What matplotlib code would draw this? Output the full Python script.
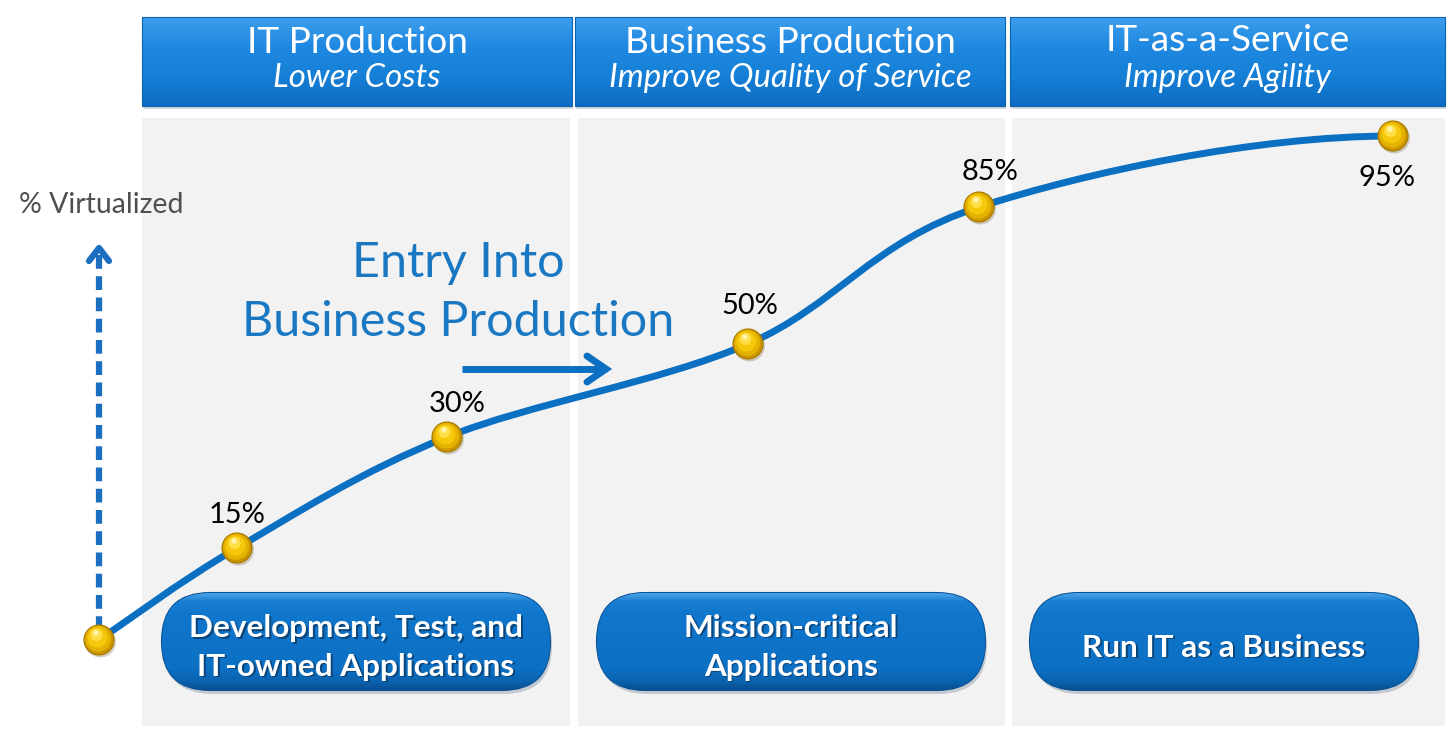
import numpy as np
import matplotlib
matplotlib.use("Agg")
import matplotlib.pyplot as plt
from matplotlib.patches import Rectangle, FancyBboxPatch, Circle, PathPatch
from matplotlib.path import Path
from matplotlib.colors import LinearSegmentedColormap

# ---------------- data ----------------
stage_titles = ["IT Production", "Business Production", "IT-as-a-Service"]
stage_subtitles = ["Lower Costs", "Improve Quality of Service", "Improve Agility"]
app_labels = ["Development, Test, and\nIT-owned Applications",
              "Mission-critical\nApplications",
              "Run IT as a Business"]
point_x = [99, 237, 447, 748, 979, 1393]
point_y = [640, 548, 437, 344, 207, 136]
pct_labels = ["", "15%", "30%", "50%", "85%", "95%"]
axis_label = "% Virtualized"
callout_lines = ["Entry Into", "Business Production"]

FONT = "Lato"
W, H = 1452, 729

fig = plt.figure(figsize=(W / 100, H / 100), dpi=100)
ax = fig.add_axes([0, 0, 1, 1])
ax.set_xlim(0, W)
ax.set_ylim(H, 0)
ax.axis("off")
fig.patch.set_facecolor("white")

pt = 0.72  # px -> pt

# ---------------- gray panels ----------------
panel_x = [(142, 570), (578, 1005), (1012, 1445)]
for x0, x1 in panel_x:
    ax.add_patch(Rectangle((x0, 118), x1 - x0, 608, facecolor="#f2f2f2",
                           edgecolor="none", zorder=0))

# ---------------- header boxes ----------------
head_x = [(142, 572), (575, 1005), (1010, 1445)]
hcmap = LinearSegmentedColormap.from_list(
    "h", ["#3d9eec", "#1f88e0", "#167fd6", "#0d6cc2"])
grad = np.linspace(0, 1, 100).reshape(-1, 1)
for i, (x0, x1) in enumerate(head_x):
    ax.add_patch(Rectangle((x0 + 1, 19), x1 - x0, 90, facecolor="#9aa4ad",
                           alpha=0.45, edgecolor="none", zorder=1))
    rect = Rectangle((x0, 17), x1 - x0, 89, facecolor="none",
                     edgecolor="#0b62b0", lw=0.8, zorder=3)
    ax.add_patch(rect)
    im = ax.imshow(grad, cmap=hcmap, extent=(x0, x1, 106, 17), aspect="auto",
                   zorder=2, interpolation="bilinear")
    im.set_clip_path(rect)
    ty = 40 if i == 2 else 42
    ax.text((x0 + x1) / 2, ty, stage_titles[i], color="white", ha="center",
            va="center", fontsize=37 * pt, family=FONT, zorder=4)
    ax.text((x0 + x1) / 2, 78, stage_subtitles[i], color="white", ha="center",
            va="center", fontsize=33 * pt, family=FONT, style="italic", zorder=4)

# ---------------- pills ----------------
pill_x = [162, 597, 1030]
pill_w, pill_y, pill_h = 388, 593, 97
pcmap = LinearSegmentedColormap.from_list(
    "p", [(0.0, "#4aa2e6"), (0.08, "#1a7fd2"), (0.2, "#1177cc"),
          (0.78, "#0c70c4"), (0.92, "#0a62ae"), (1.0, "#084f92")])
for i, x0 in enumerate(pill_x):
    sh = FancyBboxPatch((x0 + 2, pill_y + 4), pill_w, pill_h,
                        boxstyle="round,pad=0,rounding_size=48",
                        facecolor="#6f7f90", alpha=0.35, edgecolor="none", zorder=1)
    ax.add_patch(sh)
    p = FancyBboxPatch((x0, pill_y), pill_w, pill_h,
                       boxstyle="round,pad=0,rounding_size=48",
                       facecolor="#0a6fc5", edgecolor="#0a5296", lw=1.5, zorder=3)
    ax.add_patch(p)
    im = ax.imshow(grad, cmap=pcmap, extent=(x0, x0 + pill_w, pill_y + pill_h, pill_y),
                   aspect="auto", zorder=3, interpolation="bilinear")
    im.set_clip_path(p)
    lines = app_labels[i].split("\n")
    ys = [628, 667] if len(lines) == 2 else [648]
    for ln, yy in zip(lines, ys):
        ax.text(x0 + pill_w / 2 + 1.5, yy + 1.5, ln, color="#0a3a66", ha="center",
                va="center", fontsize=31.5 * pt, family=FONT, weight="bold",
                zorder=4, alpha=0.8)
        ax.text(x0 + pill_w / 2, yy, ln, color="white", ha="center",
                va="center", fontsize=31.5 * pt, family=FONT, weight="bold", zorder=5)

# ---------------- axis arrow ----------------
ax.plot([point_x[0], point_x[0]], [point_y[0] - 10, 252], color="#1c6fc0",
        lw=4.5, dashes=(2.2, 1.2), zorder=4, solid_capstyle="butt")
ax.plot([89, 99, 109], [261, 248, 261], color="#1c6fc0", lw=4.5,
        solid_capstyle="round", solid_joinstyle="round", zorder=4)
ax.text(101, 205, axis_label, color="#4f4f4f", ha="center", va="center",
        fontsize=28.5 * pt, family=FONT, zorder=4)

# ---------------- curve ----------------
P = np.column_stack([point_x, point_y]).astype(float)
n = len(P)
verts = [tuple(P[0])]
codes = [Path.MOVETO]
for i in range(n - 1):
    p0 = P[i - 1] if i > 0 else P[i]
    p1, p2 = P[i], P[i + 1]
    p3 = P[i + 2] if i + 2 < n else P[i + 1]
    c1 = p1 + (p2 - p0) / 6.0
    c2 = p2 - (p3 - p1) / 6.0
    if i + 2 >= n:
        c2 = np.array([p2[0] - (p2[0] - p1[0]) / 3.0, p2[1]])
    verts += [tuple(c1), tuple(c2), tuple(p2)]
    codes += [Path.CURVE4] * 3
ax.add_patch(PathPatch(Path(verts, codes), facecolor="none", edgecolor="#0b6fc2",
                       lw=5, zorder=5, capstyle="round"))

# ---------------- spheres ----------------
for x, y in zip(point_x, point_y):
    ax.add_patch(Circle((x + 1.5, y + 2), 15.5, facecolor="#7a6a40", alpha=0.3,
                        edgecolor="none", zorder=6))
    ax.add_patch(Circle((x, y), 15, facecolor="#c99400", edgecolor="#a67a00",
                        lw=0.8, zorder=6))
    ax.add_patch(Circle((x - 0.8, y - 1.2), 13, facecolor="#e6b200",
                        edgecolor="none", zorder=6))
    ax.add_patch(Circle((x - 1.5, y - 2.5), 10, facecolor="#f5c80c",
                        edgecolor="none", zorder=6))
    ax.add_patch(Circle((x - 2.5, y - 5), 6, facecolor="#ffdf45",
                        edgecolor="none", zorder=6))
    ax.add_patch(Circle((x - 3, y - 7), 2.8, facecolor="#fff3a8",
                        edgecolor="none", zorder=6))

# ---------------- percent labels ----------------
label_off = [(0, 0), (0, -33), (10, -33), (2, -38), (11, -35), (-6, 42)]
for (x, y), lab, (dx, dy) in zip(zip(point_x, point_y), pct_labels, label_off):
    if lab:
        ax.text(x + dx, y + dy, lab, color="black", ha="center", va="center",
                fontsize=29 * pt, family=FONT, zorder=7)

# ---------------- callout ----------------
ax.text(458, 263, callout_lines[0], color="#1a78c2", ha="center", va="center",
        fontsize=48.5 * pt, family=FONT, zorder=7)
ax.text(458, 322, callout_lines[1], color="#1a78c2", ha="center", va="center",
        fontsize=48.5 * pt, family=FONT, zorder=7)
ax.plot([462, 604], [369, 369], color="#0b6fc2", lw=5, solid_capstyle="butt", zorder=7)
ax.plot([587, 606, 587], [356, 369, 382], color="#0b6fc2", lw=5,
        solid_capstyle="round", solid_joinstyle="miter", zorder=7)

fig.savefig("out.png", dpi=100, facecolor="white")
